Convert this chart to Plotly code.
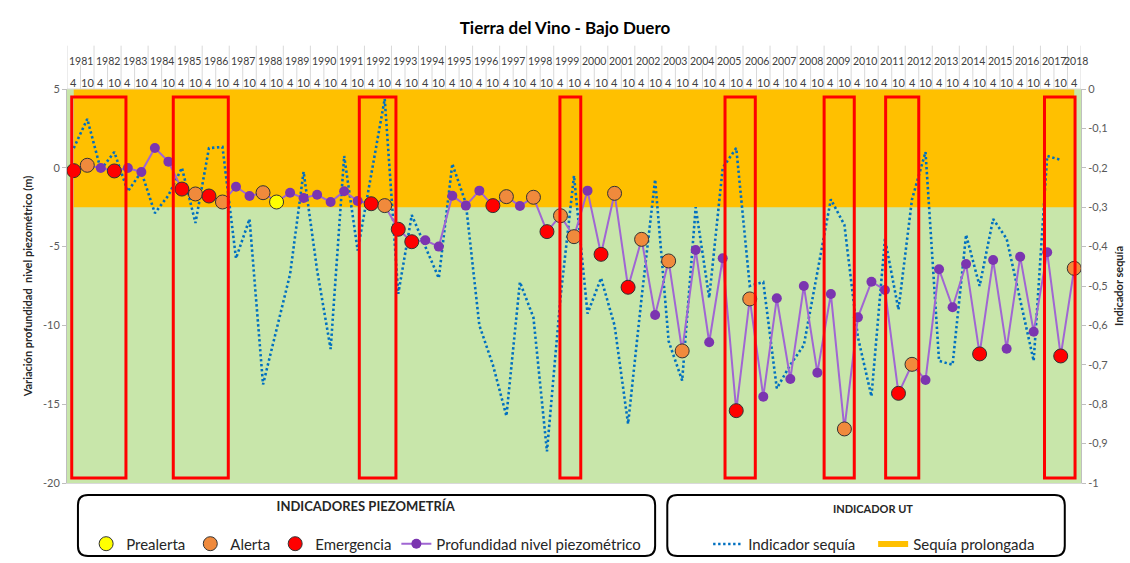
import plotly.graph_objects as go

# ejes: año / mes (abril y octubre)
years = ["1981", "1982", "1983", "1984", "1985", "1986", "1987", "1988", "1989", "1990",
         "1991", "1992", "1993", "1994", "1995", "1996", "1997", "1998", "1999", "2000",
         "2001", "2002", "2003", "2004", "2005", "2006", "2007", "2008", "2009", "2010",
         "2011", "2012", "2013", "2014", "2015", "2016", "2017", "2018"]
months = ["4", "10"]

periods = []
for y in years:
    for m in months:
        if y == "2018" and m == "10":
            continue
        periods.append(y + "-" + m)

# profundidad nivel piezometrico (m)
piezo = [-0.18, 0.16, -0.01, -0.20, -0.01, -0.27, 1.26, 0.39, -1.35, -1.66,
         -1.79, -2.17, -1.20, -1.79, -1.58, -2.17, -1.58, -1.92, -1.71, -2.17,
         -1.49, -2.11, -2.28, -2.40, -3.90, -4.69, -4.60, -5.00, -1.77, -2.40,
         -1.45, -2.40, -1.83, -2.42, -1.87, -4.05, -3.04, -4.37, -1.45, -5.49,
         -1.62, -7.58, -4.54, -9.34, -5.91, -11.62, -5.22, -11.07, -5.74, -15.41,
         -8.32, -14.52, -8.28, -13.40, -7.50, -13.00, -8.01, -16.57, -9.49, -7.23,
         -7.75, -14.31, -12.47, -13.46, -6.44, -8.85, -6.10, -11.81, -5.85, -11.48,
         -5.64, -10.40, -5.36, -11.94, -6.38]

# P = prealerta, A = alerta, E = emergencia
piezo_status = ["E", "A", "", "E", "", "", "", "", "E", "A",
                "E", "A", "", "", "A", "P", "", "", "", "",
                "", "", "E", "A", "E", "E", "", "", "", "",
                "", "E", "A", "", "A", "E", "A", "A", "", "E",
                "A", "E", "A", "", "A", "A", "", "", "", "E",
                "A", "", "", "", "", "", "", "A", "", "",
                "", "E", "A", "", "", "", "", "E", "", "",
                "", "", "", "E", "A"]

# indicador de sequia (hasta 2017-10)
indicador = [-0.15, -0.076, -0.205, -0.16, -0.26, -0.21, -0.315, -0.27, -0.20, -0.34,
             -0.15, -0.147, -0.43, -0.33, -0.75, -0.61, -0.47, -0.21, -0.46, -0.66,
             -0.17, -0.41, -0.22, -0.025, -0.52, -0.32, -0.40, -0.48, -0.19, -0.29,
             -0.60, -0.70, -0.83, -0.49, -0.58, -0.92, -0.53, -0.22, -0.57, -0.48,
             -0.60, -0.85, -0.53, -0.23, -0.64, -0.74, -0.30, -0.53, -0.20, -0.15,
             -0.50, -0.49, -0.76, -0.70, -0.65, -0.46, -0.28, -0.345, -0.63, -0.78,
             -0.38, -0.56, -0.28, -0.16, -0.69, -0.70, -0.37, -0.50, -0.33, -0.38,
             -0.535, -0.69, -0.17, -0.18]

# umbral de sequia prolongada
sequia_prolongada = [-0.3, -0.3, -0.3, -0.3, -0.3, -0.3, -0.3, -0.3, -0.3, -0.3,
                     -0.3, -0.3, -0.3, -0.3, -0.3, -0.3, -0.3, -0.3, -0.3, -0.3,
                     -0.3, -0.3, -0.3, -0.3, -0.3, -0.3, -0.3, -0.3, -0.3, -0.3,
                     -0.3, -0.3, -0.3, -0.3, -0.3, -0.3, -0.3, -0.3, -0.3, -0.3,
                     -0.3, -0.3, -0.3, -0.3, -0.3, -0.3, -0.3, -0.3, -0.3, -0.3,
                     -0.3, -0.3, -0.3, -0.3, -0.3, -0.3, -0.3, -0.3, -0.3, -0.3,
                     -0.3, -0.3, -0.3, -0.3, -0.3, -0.3, -0.3, -0.3, -0.3, -0.3,
                     -0.3, -0.3, -0.3, -0.3, -0.3]

# periodos de sequia marcados (posicion en el eje de categorias)
drought_start = [-0.15, 7.36, 21.12, 35.96, 48.17, 55.5, 60.05, 71.8]
drought_end = [3.86, 11.43, 23.83, 37.5, 50.41, 57.73, 62.5, 74.06]

FONT = "Lato, Carlito, Calibri, sans-serif"
GREY = "#595959"

fig = go.Figure()

# sequia prolongada (banda naranja) sobre eje del indicador
fig.add_trace(go.Scatter(
    x=periods, y=sequia_prolongada, mode="none", fill="tozeroy",
    fillcolor="#FFC000", name="Sequía prolongada",
    legend="legend2", legendrank=2, yaxis="y",
))
fig.add_trace(go.Scatter(
    x=periods[:len(indicador)], y=indicador, mode="lines",
    line=dict(color="#0070C0", width=2.6, dash="2.4px,2.6px"),
    name="Indicador sequía", legend="legend2", legendrank=1, yaxis="y",
))

# piezometria sobre eje izquierdo (superpuesto)
fig.add_trace(go.Scatter(
    x=periods, y=piezo, mode="lines+markers",
    line=dict(color="#A066D3", width=2),
    marker=dict(color="#7B35B0", size=10),
    name="Profundidad nivel piezométrico", legendrank=4, yaxis="y2",
))

status_styles = [
    ("P", "Prealerta", "#FFFF00", 1),
    ("A", "Alerta", "#F08A3C", 2),
    ("E", "Emergencia", "#FF0000", 3),
]
for code, label, color, rank in status_styles:
    xs = [p for p, s in zip(periods, piezo_status) if s == code]
    ys = [v for v, s in zip(piezo, piezo_status) if s == code]
    fig.add_trace(go.Scatter(
        x=xs, y=ys, mode="markers", name=label, legendrank=rank, yaxis="y2",
        marker=dict(color=color, size=14, line=dict(color="#333333", width=1)),
    ))

shapes = []
# rectangulos rojos de los periodos de sequia
for x0, x1 in zip(drought_start, drought_end):
    shapes.append(dict(
        type="rect", xref="x", yref="y", x0=x0, x1=x1, y0=-0.987, y1=-0.02,
        line=dict(color="#FF0000", width=3), fillcolor="rgba(0,0,0,0)", layer="above",
    ))

# cabecera de años y meses
annotations = []
for k, y in enumerate(years):
    if y == "2018":
        xc = 2 * k + 0.1
    else:
        xc = 2 * k + 0.5
    annotations.append(dict(
        x=xc, y=1.091, xref="x", yref="paper", text=y, showarrow=False,
        font=dict(size=10.5, color="#404040"),
    ))
    shapes.append(dict(
        type="line", xref="x", yref="paper", x0=2 * k - 0.5, x1=2 * k - 0.5,
        y0=1.0, y1=1.11, line=dict(color="#D9D9D9", width=1),
    ))
    if y != "2018":
        shapes.append(dict(
            type="line", xref="x", yref="paper", x0=2 * k + 0.5, x1=2 * k + 0.5,
            y0=1.0, y1=1.063, line=dict(color="#D9D9D9", width=1),
        ))
shapes.append(dict(
    type="line", xref="x", yref="paper", x0=len(periods) - 0.5, x1=len(periods) - 0.5,
    y0=1.0, y1=1.11, line=dict(color="#D9D9D9", width=1),
))
shapes.append(dict(
    type="line", xref="paper", yref="paper", x0=0, x1=1, y0=1.0, y1=1.0,
    line=dict(color="#D9D9D9", width=1),
))
for p in periods:
    annotations.append(dict(
        x=p, y=1.038, xref="x", yref="paper", text=p.split("-")[1], showarrow=False,
        font=dict(size=11, color="#404040"),
    ))


def rounded_box(x0, y0, x1, y1, rx=0.0099, ry=0.0254):
    return (f"M {x0 + rx},{y1} L {x1 - rx},{y1} Q {x1},{y1} {x1},{y1 - ry} "
            f"L {x1},{y0 + ry} Q {x1},{y0} {x1 - rx},{y0} L {x0 + rx},{y0} "
            f"Q {x0},{y0} {x0},{y0 + ry} L {x0},{y1 - ry} Q {x0},{y1} {x0 + rx},{y1} Z")


shapes.append(dict(type="path", xref="paper", yref="paper",
                   path=rounded_box(0.0108, -0.185, 0.58, -0.0305),
                   line=dict(color="#000000", width=2)))
shapes.append(dict(type="path", xref="paper", yref="paper",
                   path=rounded_box(0.592, -0.185, 0.984, -0.0305),
                   line=dict(color="#000000", width=2)))

fig.update_layout(
    width=1130, height=563,
    template="none",
    font=dict(family=FONT, color=GREY),
    title=dict(text="<b>Tierra del Vino - Bajo Duero</b>", x=0.5, xanchor="center",
               y=0.95, yanchor="middle", font=dict(size=17, color="#000000")),
    margin=dict(l=67, r=49, t=89, b=80, autoexpand=False),
    plot_bgcolor="#C8E6AA",
    paper_bgcolor="#FFFFFF",
    xaxis=dict(type="category", range=[-0.5, len(periods) - 0.5], showticklabels=False,
               ticks="", showgrid=False, zeroline=False, showline=True,
               linecolor="#D9D9D9", linewidth=1),
    yaxis=dict(side="right", range=[-1, 0], showgrid=False, zeroline=False,
               tickvals=[0, -0.1, -0.2, -0.3, -0.4, -0.5, -0.6, -0.7, -0.8, -0.9, -1],
               ticktext=["0", "-0,1", "-0,2", "-0,3", "-0,4", "-0,5", "-0,6", "-0,7",
                         "-0,8", "-0,9", "-1"],
               ticks="outside", ticklen=4, tickcolor="#BFBFBF", showline=True,
               linecolor="#BFBFBF", linewidth=1, tickfont=dict(size=11, color=GREY),
               title=dict(text="<b>Indicador sequía</b>", font=dict(size=11, color="#262626"),
                          standoff=8)),
    yaxis2=dict(side="left", overlaying="y", range=[-20, 5], showgrid=False, zeroline=False,
                tickvals=[5, 0, -5, -10, -15, -20], ticktext=["5", "0", "-5", "-10", "-15", "-20"],
                ticks="outside", ticklen=4, tickcolor="#BFBFBF", showline=True,
                linecolor="#BFBFBF", linewidth=1, tickfont=dict(size=11, color=GREY),
                title=dict(text="<b>Variación profundidad  nivel piezométrico (m)</b>",
                           font=dict(size=11, color="#262626"), standoff=8)),
    legend=dict(orientation="h", x=0.295, xanchor="center", y=-0.027, yanchor="top",
                title=dict(text="<b>INDICADORES PIEZOMETRÍA</b><br><span style='font-size:8px'> </span>",
                           side="top center", font=dict(size=13, color="#262626")),
                font=dict(size=15, color="#262626"), bgcolor="rgba(0,0,0,0)",
                tracegroupgap=0, itemwidth=30),
    legend2=dict(orientation="h", x=0.795, xanchor="center", y=-0.041, yanchor="top",
                 title=dict(text="<b>INDICADOR UT</b><br><span style='font-size:7px'> </span>",
                            side="top center", font=dict(size=11, color="#262626")),
                 font=dict(size=15, color="#262626"), bgcolor="rgba(0,0,0,0)",
                 entrywidth=120),
    shapes=shapes,
    annotations=annotations,
    showlegend=True,
)

fig.write_html("out.html", config={"displayModeBar": False},
               post_script="document.body.style.margin='0px';")
